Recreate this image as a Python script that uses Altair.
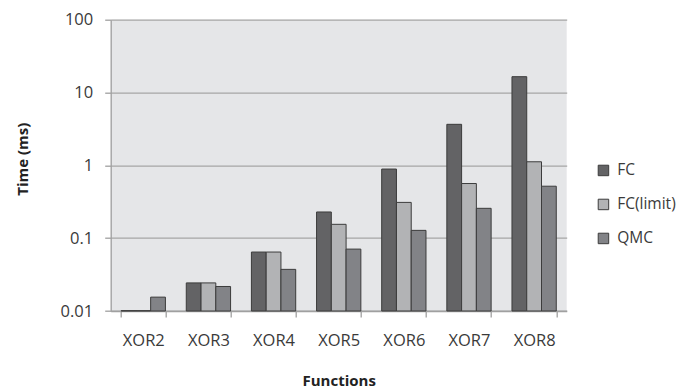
import altair as alt
import pandas as pd

functions = ["XOR2", "XOR3", "XOR4", "XOR5", "XOR6", "XOR7", "XOR8"]
series = ["FC", "FC(limit)", "QMC"]
fc = [0.0101, 0.0243, 0.0645, 0.229, 0.89, 3.66, 16.5]
fc_limit = [0.0101, 0.0243, 0.0645, 0.155, 0.31, 0.563, 1.12]
qmc = [0.0155, 0.0217, 0.0373, 0.0708, 0.128, 0.257, 0.517]
colors = ["#636365", "#b2b3b5", "#828387"]
y_ticks = [0.01, 0.1, 1, 10, 100]

rows = []
for name, vals in zip(series, [fc, fc_limit, qmc]):
    for f, v in zip(functions, vals):
        rows.append({"Function": f, "Series": name, "Time": v})
df = pd.DataFrame(rows)

FONT = "Open Sans"

chart = alt.Chart(df).mark_bar(stroke="#3c3c3c", strokeWidth=1).encode(
    x=alt.X("Function:N", sort=functions,
            scale=alt.Scale(paddingInner=0.32, paddingOuter=0.16),
            axis=alt.Axis(title="Functions", labelAngle=0, tickBand="extent",
                          tickSize=6, labelPadding=15, titleX=228, titleY=69,
                          titleBaseline="middle")),
    xOffset=alt.XOffset("Series:N", sort=series,
                        scale=alt.Scale(paddingInner=0, paddingOuter=0)),
    y=alt.Y("Time:Q", scale=alt.Scale(type="log", domain=[0.01, 100]),
            axis=alt.Axis(title="Time (ms)", values=y_ticks, format="~g",
                          tickSize=6, labelPadding=12, grid=True,
                          titleX=-88, titleY=139, titleBaseline="middle")),
    y2=alt.datum(0.01),
    fill=alt.Fill("Series:N", sort=series,
                  scale=alt.Scale(domain=series, range=colors),
                  legend=alt.Legend(title=None, orient="none", legendX=485, legendY=143,
                                    symbolType="square", symbolSize=110,
                                    symbolStrokeColor="#3c3c3c", symbolStrokeWidth=1,
                                    rowPadding=17, labelOffset=6, padding=0)),
).properties(
    width=456, height=291.3,
    autosize=alt.AutoSizeParams(type="none"),
    padding={"left": 102.7, "top": 11.7, "right": 111.3, "bottom": 79},
).configure_view(
    stroke=None, fill="#e5e6e8"
).configure_axis(
    labelFont=FONT, titleFont=FONT, labelFontSize=16.5, titleFontSize=15,
    labelColor="#3a3a3a", titleColor="#222222", titleFontWeight="bold",
    domainColor="#a0a0a0", tickColor="#a0a0a0", gridColor="#a6a6a6",
    gridWidth=1.3, domainWidth=1.3, tickWidth=1.3,
).configure_legend(
    labelFont=FONT, labelFontSize=15.5, labelColor="#3a3a3a",
)

chart.save("out.html", embed_options={"renderer": "svg", "actions": False})
